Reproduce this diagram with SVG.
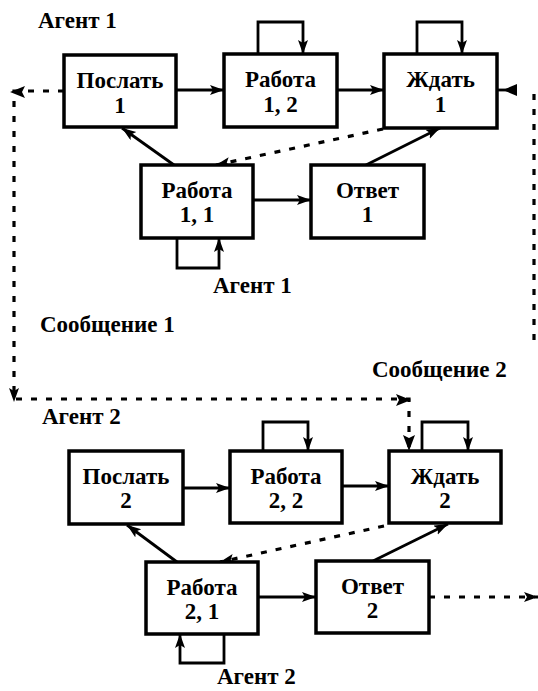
<svg xmlns="http://www.w3.org/2000/svg" width="538" height="691" viewBox="0 0 538 691">
<defs>
<marker id="ah" markerUnits="userSpaceOnUse" markerWidth="16" markerHeight="12" refX="14" refY="5" orient="auto">
<path d="M0,0 L14,5 L0,10 L3,5 z" fill="#000"/>
</marker>
</defs>
<style>
.box{fill:#fff;stroke:#000;stroke-width:3.5}
.t{font-family:"Liberation Serif","Times New Roman",serif;font-weight:bold;font-size:23px;text-anchor:middle;fill:#000}
.lbl{font-family:"Liberation Serif","Times New Roman",serif;font-weight:bold;font-size:23px;fill:#000}
.c{fill:none;stroke:#000;stroke-width:2.8}
.a{marker-end:url(#ah)}
.d{fill:none;stroke:#000;stroke-width:3.2;stroke-dasharray:6 9}
.ar{fill:#000}
</style>
<rect width="538" height="691" fill="#fff"/>
<g id="connectors">
<path class="c a" d="M176,90 H224"/>
<path class="c a" d="M337,90 H384"/>
<path class="c a" d="M258,54 V22 H303 V54"/>
<path class="c a" d="M417,54 V22 H462 V54"/>
<path class="c a" d="M174,165 L122,128"/>
<path class="c a" d="M253,200 H311"/>
<path class="c a" d="M366,165 L440,128"/>
<path class="c a" d="M177,238 V268 H219 V238"/>
<path class="d a" d="M383,129 L216,165"/>
<path class="d" d="M64,91 H14 V399 H409 V449"/>
<path class="ar" d="M10,92 L25,86 L22,92 L25,98 z"/>
<path class="ar" d="M14,402 L9,388 L14,391 L19,388 z"/>
<path class="ar" d="M411,400 L396,394 L399,400 L396,406 z"/>
<path class="ar" d="M409,451 L403,435 L409,438 L415,435 z"/>
<path class="d" d="M534,340 V94"/>
<path class="c" d="M498,90 H516"/>
<path class="ar" d="M503,90 L517,84 L517,96 z"/>
<path class="c a" d="M183,488 H230"/>
<path class="c a" d="M342,486 H389"/>
<path class="c a" d="M263,451 V422 H308 V451"/>
<path class="c a" d="M422,451 V422 H468 V451"/>
<path class="c a" d="M177,562 L127,525"/>
<path class="d a" d="M384,526 L220,562"/>
<path class="c a" d="M373,561 L448,524"/>
<path class="c a" d="M258,597 H316"/>
<path class="c a" d="M224,634 V663 H180 V634"/>
<path class="d a" d="M429,597 H538"/>
</g>
<g id="n_poslat1"><rect class="box" x="64" y="55" width="112" height="72"/><text class="t" x="120" y="88">Послать</text><text class="t" x="120" y="113">1</text></g>
<g id="n_rabota12"><rect class="box" x="224" y="54" width="113" height="73"/><text class="t" x="280.5" y="87">Работа</text><text class="t" x="280.5" y="112">1, 2</text></g>
<g id="n_zhdat1"><rect class="box" x="384" y="54" width="113" height="74"/><text class="t" x="440.5" y="87">Ждать</text><text class="t" x="440.5" y="112">1</text></g>
<g id="n_rabota11"><rect class="box" x="141" y="165" width="112" height="73"/><text class="t" x="197" y="198">Работа</text><text class="t" x="197" y="222">1, 1</text></g>
<g id="n_otvet1"><rect class="box" x="311" y="165" width="113" height="73"/><text class="t" x="367.5" y="198">Ответ</text><text class="t" x="367.5" y="222">1</text></g>
<g id="n_poslat2"><rect class="box" x="69" y="451" width="114" height="73"/><text class="t" x="126" y="484">Послать</text><text class="t" x="126" y="508">2</text></g>
<g id="n_rabota22"><rect class="box" x="230" y="451" width="112" height="72"/><text class="t" x="286" y="484">Работа</text><text class="t" x="286" y="508">2, 2</text></g>
<g id="n_zhdat2"><rect class="box" x="389" y="451" width="112" height="72"/><text class="t" x="445" y="484">Ждать</text><text class="t" x="445" y="508">2</text></g>
<g id="n_rabota21"><rect class="box" x="146" y="562" width="112" height="72"/><text class="t" x="202" y="595">Работа</text><text class="t" x="202" y="619">2, 1</text></g>
<g id="n_otvet2"><rect class="box" x="316" y="561" width="113" height="72"/><text class="t" x="372.5" y="594">Ответ</text><text class="t" x="372.5" y="618">2</text></g>
<g id="labels">
<text class="lbl" x="38" y="28">Агент 1</text>
<text class="lbl" x="213" y="293">Агент 1</text>
<text class="lbl" x="40" y="332">Сообщение 1</text>
<text class="lbl" x="372" y="377">Сообщение 2</text>
<text class="lbl" x="42" y="424">Агент 2</text>
<text class="lbl" x="217" y="684">Агент 2</text>
</g>
</svg>
